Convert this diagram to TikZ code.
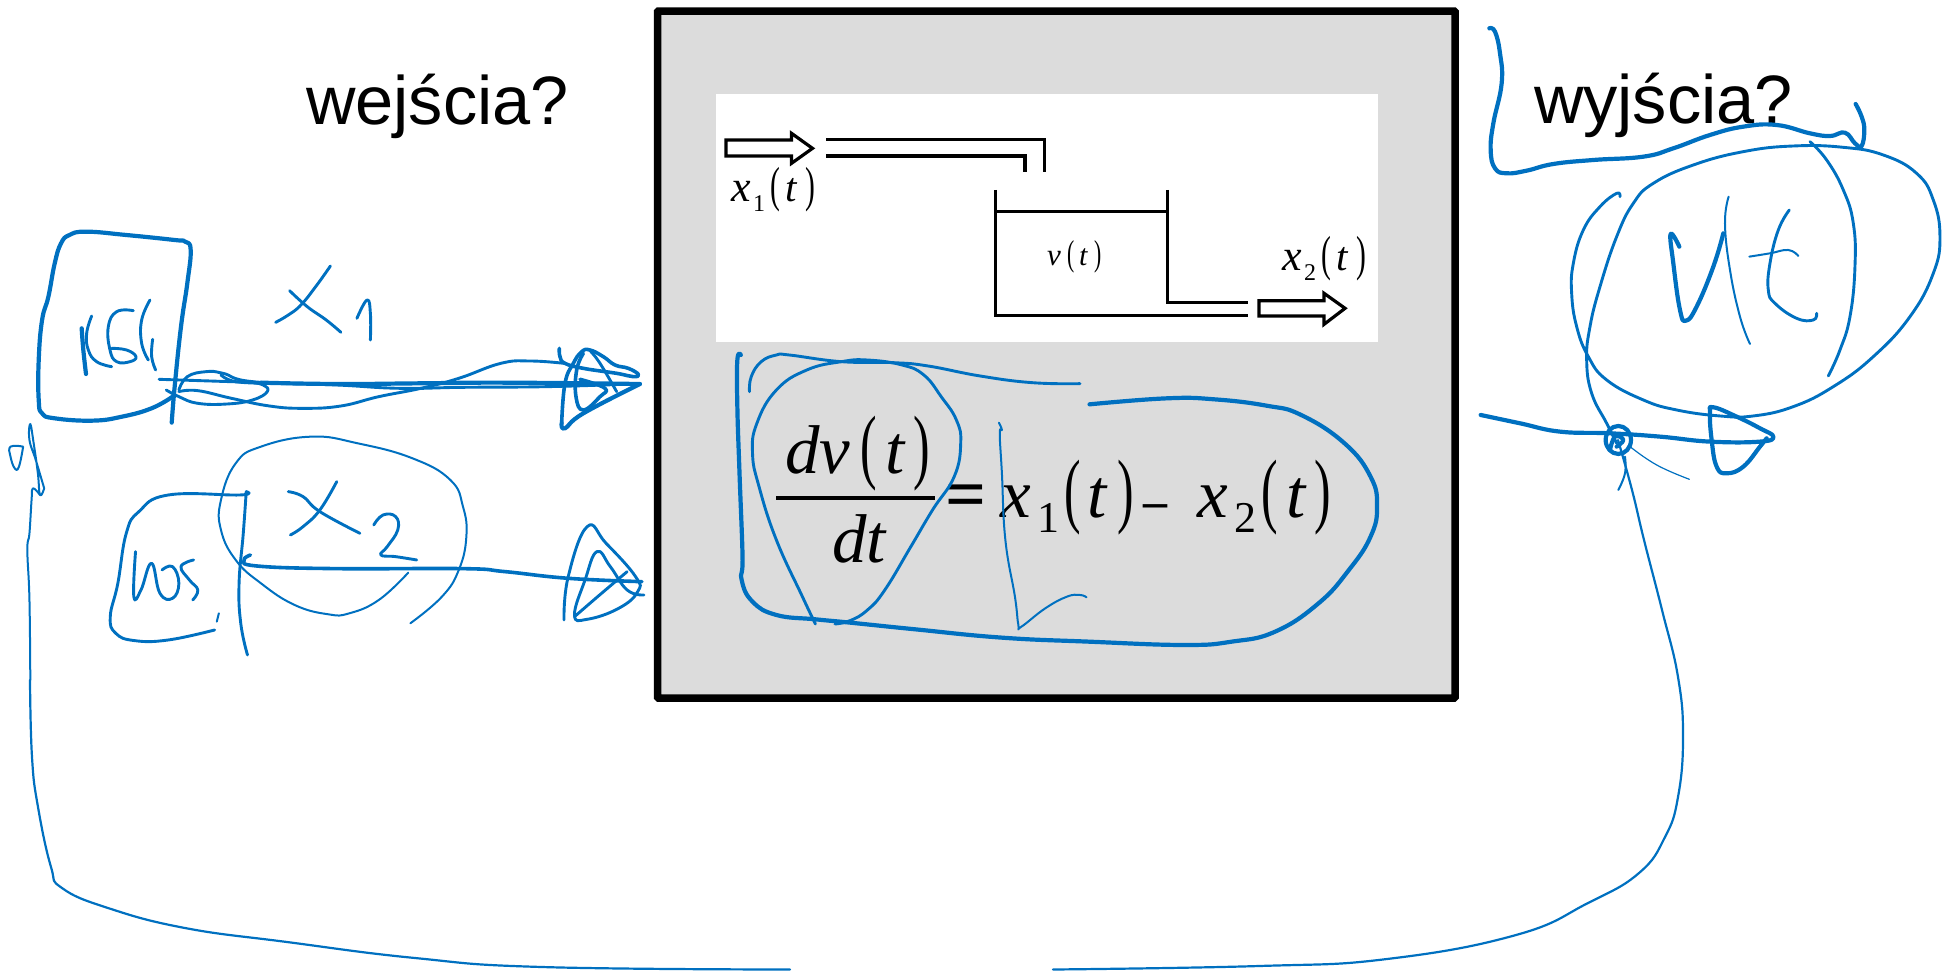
\documentclass[tikz,border=0pt]{standalone}
\usepackage{fontspec}
\usepackage{graphicx}
\setmainfont{Liberation Sans}
\newfontfamily\serifm{Liberation Serif}
\definecolor{inkblue}{HTML}{0070C0}
\definecolor{panelgrey}{HTML}{DCDCDC}
\newcommand{\mtxt}[5]{\node[mathlabel,font=\serifm\itshape\fontsize{#4}{#4}\selectfont] (#1) at (#2,#3) {#5};}
\newcommand{\mrom}[5]{\node[mathlabel,font=\serifm\fontsize{#4}{#4}\selectfont] (#1) at (#2,#3) {#5};}
\newcommand{\mbld}[5]{\node[mathlabel,font=\serifm\bfseries\fontsize{#4}{#4}\selectfont] (#1) at (#2,#3) {#5};}
\newcommand{\mpar}[5]{\node[mathlabel,font=\serifm\fontsize{#4}{#4}\selectfont] (#1) at (#2,#3) {\scalebox{.72}[1.2]{#5}};}
\newcommand{\inkline}[2]{\draw[#1] plot[smooth,tension=.75] coordinates {#2};}
\tikzset{
  mathlabel/.style={inner sep=0pt,outer sep=0pt,anchor=base west,text=black},
  headline/.style={inner sep=0pt,outer sep=0pt,anchor=base west,text=black,font=\fontsize{68.5}{70}\selectfont},
  inkA/.style={draw=inkblue,line width=2pt,line cap=round,line join=round},
  inkB/.style={draw=inkblue,line width=2.9pt,line cap=round,line join=round},
  inkC/.style={draw=inkblue,line width=4.2pt,line cap=round,line join=round},
  pipe/.style={draw=black,line width=3.2pt,line join=miter},
  zA/.style={shift={(0,200)},x=.4209pt,y=-.3333pt},
  zB/.style={shift={(700,80)},x=.4464pt,y=-.3333pt},
  zC/.style={shift={(720,340)},x=.4337pt,y=-.3333pt},
  zD/.style={shift={(1460,10)},x=.3333pt,y=-.3333pt},
  zE/.style={shift={(60,300)},x=.3333pt,y=-.3333pt},
  zF/.style={shift={(550,340)},x=.3333pt,y=-.3333pt},
}
\begin{document}
\begin{tikzpicture}[x=1pt,y=-1pt]
\useasboundingbox (0,0) rectangle (1943,970);
% main panel
\draw[fill=panelgrey,draw=black,line width=7.5pt,rounded corners=1pt] (657.5,11) rectangle (1455,698);
\fill[white] (716,94) rectangle (1378,342);
% headings
\node[headline] (wej) at (306,124) {wejścia?};
\node[headline] (wyj) at (1534,123) {wyjścia?};
% tank picture
\begin{scope}[zB]
\draw[pipe] (58,180) -- (205,180) -- (205,160) -- (252,205) -- (205,250) -- (205,228) -- (58,228) -- cycle;
\draw[pipe] (283,178) -- (772,178) -- (772,275);
\draw[pipe] (283,228) -- (728,228) -- (728,275);
\draw[pipe] (662,330) -- (662,707) -- (1228,707);
\draw[pipe] (1048,330) -- (1048,667) -- (1228,667);
\draw[pipe,line width=2.4pt] (662,395) -- (1048,395);
\draw[pipe] (1252,662) -- (1398,662) -- (1398,640) -- (1445,685) -- (1398,733) -- (1398,708) -- (1252,708) -- cycle;
\end{scope}
\mtxt{sa}{731}{201}{44}{x}
\mrom{sb}{753}{211}{24}{1}
\mpar{sc}{770}{201}{41}{(}
\mtxt{sd}{785}{201}{41}{t}
\mpar{se}{805}{201}{41}{)}
\mtxt{va}{1047}{265}{31}{v}
\mpar{vb}{1067}{265}{30}{(}
\mtxt{vc}{1079}{265}{30}{t}
\mpar{vd}{1094}{265}{30}{)}
\mtxt{ta}{1282}{270}{44}{x}
\mrom{tb}{1304}{280}{24}{2}
\mpar{tc}{1321}{270}{41}{(}
\mtxt{td}{1336}{270}{41}{t}
\mpar{te}{1356}{270}{41}{)}
% equation
\draw[black,line width=3.6pt] (776,498) -- (935,498);
\mtxt{ea}{785}{473}{69}{dv}
\mpar{eb}{860}{473}{69}{(}
\mtxt{ec}{885}{473}{69}{t}
\mpar{ed}{913}{473}{69}{)}
\mtxt{ee}{832}{562}{69}{dt}
\mbld{ef}{945}{518}{72}{=}
\mtxt{eg}{1000}{517}{69}{x}
\mrom{eh}{1037}{532}{44}{1}
\mpar{ei}{1064}{517}{69}{(}
\mtxt{ej}{1087}{517}{69}{t}
\mpar{ek}{1117}{517}{69}{)}
\mbld{el}{1143}{517}{48}{–}
\mtxt{em}{1197}{517}{69}{x}
\mrom{en}{1234}{532}{44}{2}
\mpar{eo}{1261}{517}{69}{(}
\mtxt{ep}{1286}{517}{69}{t}
\mpar{eq}{1314}{517}{69}{)}
% ink over equation
\begin{scope}[zC]
\inkline{inkC}{(48,45)(40,60)(40,200)(45,400)(52,650)(50,720)(75,785)(130,825)(220,838)(300,848)(450,868)(650,893)(850,905)(1070,915)(1180,905)(1280,875)(1380,790)(1450,690)(1500,590)(1515,500)(1500,410)(1440,310)(1340,225)(1260,197)(1140,178)(1030,175)(852,193)}
\inkline{inkB}{(68,155)(72,110)(95,65)(130,45)(160,45)(280,65)(400,68)(480,78)(600,108)(720,128)(830,131)}
\inkline{inkB}{(220,852)(190,770)(130,600)(90,440)(75,340)(85,250)(130,150)(200,90)(280,65)(340,60)(420,75)(470,105)(510,170)(545,240)(555,310)(540,410)(490,510)(440,620)(380,750)(340,810)(300,842)(265,852)}
\inkline{inkA}{(643,248)(650,270)(645,280)(650,400)(658,600)(680,770)(688,855)(695,860)(750,805)(800,770)(830,765)(845,772)}
\end{scope}
% left group
\begin{scope}[zA]
\inkline{inkC}{(410,590)(360,625)(290,650)(220,662)(130,655)(100,640)(92,600)(92,480)(100,360)(115,290)(130,190)(145,130)(165,105)(205,95)(300,105)(415,120)(440,125)(453,150)(445,250)(430,380)(415,560)(408,668)}
\inkline{inkB}{(785,198)(750,260)(715,315)(685,345)(655,367)}
\inkline{inkB}{(688,272)(730,320)(775,360)(810,397)}
\inkline{inkB}{(848,355)(872,300)(880,340)(880,420)}
\inkline{inkC}{(620,548)(800,552)(1000,550)(1200,548)(1520,552)}
\draw[inkB] (378,538) -- (620,548);
\inkline{inkB}{(425,570)(445,530)(490,515)(530,520)(600,545)(800,555)(950,565)(1100,562)(1300,560)(1500,552)}
\inkline{inkB}{(525,525)(560,545)(640,550)}
\inkline{inkB}{(395,570)(425,590)(470,610)(540,612)(600,600)(635,575)(625,555)(590,545)}
\inkline{inkB}{(425,575)(470,572)(550,595)(640,618)(720,625)(810,618)(900,590)(1000,565)(1090,535)(1190,490)(1260,483)(1340,490)}
% LOS box
\inkline{inkB}{(510,1290)(400,1320)(320,1322)(275,1300)(262,1250)(280,1150)(300,1000)(330,935)(400,885)(570,885)(585,875)}
\inkline{inkB}{(585,875)(578,1000)(568,1150)(572,1270)(588,1365)}
\draw[inkA] (520,1240) -- (515,1265);
\inkline{inkB}{(322,1055)(318,1190)(335,1170)(360,1090)(380,1180)(410,1195)(425,1150)(410,1100)(385,1110)}
\inkline{inkB}{(460,1080)(430,1100)(450,1140)(470,1170)(458,1200)}
\inkline{inkA}{(970,1118)(900,1200)(830,1240)(780,1243)(700,1215)(620,1150)(560,1080)(525,990)(525,900)(560,790)(620,740)(740,710)(850,730)(980,775)(1070,840)(1100,920)(1108,1010)(1090,1110)(1050,1190)(975,1270)}
\inkline{inkB}{(800,845)(760,930)(720,980)(690,1005)}
\inkline{inkB}{(685,875)(720,890)(760,935)(855,1000)}
\inkline{inkB}{(888,975)(910,945)(940,950)(945,990)(920,1040)(905,1065)(940,1070)(990,1080)}
\inkline{inkC,line width=3.6pt}{(595,1065)(580,1080)(610,1098)(800,1106)(1100,1106)(1200,1115)(1350,1135)(1525,1145)}
\inkline{inkB}{(1340,1260)(1350,1130)(1395,980)(1440,1030)(1510,1130)(1515,1175)(1470,1225)(1395,1258)(1365,1245)(1390,1140)(1418,1055)(1450,1100)(1490,1170)(1530,1185)}
\inkline{inkB}{(1365,1250)(1420,1190)(1490,1115)}
% tail of feedback line
\inkline{inkA}{(95,885)(78,865)(75,900)(70,1000)(65,1050)(70,1200)(72,1440)}
\inkline{inkA}{(105,865)(95,885)(90,820)(80,730)(72,672)(70,720)(85,780)(105,865)}
\inkline{inkA}{(55,740)(25,740)(25,770)(35,805)(45,800)(55,740)}
\end{scope}
\begin{scope}[zE]
\inkline{inkC}{(65,85)(70,150)(78,222)}
\inkline{inkB}{(95,48)(80,100)(85,150)(110,185)(155,200)}
\inkline{inkB}{(220,32)(170,35)(145,80)(150,150)(170,185)(210,185)(228,170)(200,150)(155,145)}
\inkline{inkB}{(270,0)(245,60)(245,130)(265,180)}
\inkline{inkB}{(278,118)(275,170)(287,210)}
\end{scope}
\begin{scope}[zF]
\inkline{inkC}{(35,250)(45,265)(100,220)(270,132)}
\inkline{inkC,line width=3.6pt}{(28,25)(30,50)(45,70)(100,85)(200,100)(250,110)(265,103)(235,85)(195,75)(160,50)(120,30)(95,35)(70,70)(45,130)(35,250)}
\inkline{inkC,line width=3.6pt}{(100,40)(80,90)(78,170)(100,210)(150,170)(165,145)(90,118)}
\inkline{inkB}{(120,32)(150,70)(200,155)}
\end{scope}
% feedback line
\inkline{inkA,line width=2.2pt}{(30,680)(32,757)(38,807)(51,867)(62,888)(108,908)(185,928)(287,942)(415,958)(542,967)(790,969.5)}
\inkline{inkA,line width=2.2pt}{(1053,969.5)(1259,966)(1387,959)(1516,935)(1588,903)(1639,873)(1665,837)(1678,797)(1683,737)(1678,677)(1662,610)(1644,540)(1632,490)(1618,440)}
% right group
\begin{scope}[zD]
\inkline{inkC}{(88,55)(105,65)(120,130)(125,220)(100,340)(92,420)(105,475)(140,490)(200,482)(280,462)(400,450)(550,440)(640,415)(750,375)(850,350)(950,345)(1050,370)(1110,378)(1155,368)(1185,400)(1205,408)(1213,360)(1205,320)(1187,282)}
\inkline{inkB}{(470,1300)(440,1240)(395,1150)(380,1050)(390,950)(420,830)(470,680)(520,580)(580,520)(700,465)(850,425)(1000,408)(1150,412)(1270,435)(1370,490)(1420,570)(1440,680)(1420,790)(1350,920)(1240,1040)(1120,1130)(1000,1190)(880,1218)(780,1218)(650,1200)(550,1170)(440,1110)(385,1040)(350,950)(335,850)(340,760)(370,660)(420,590)(470,550)(480,560)}
\inkline{inkB}{(1050,395)(1100,450)(1150,540)(1180,640)(1185,770)(1170,920)(1140,1020)(1105,1098)}
\inkline{inkC}{(658,710)(632,672)(640,760)(660,900)(678,932)(710,890)(760,770)(790,670)}
\inkline{inkA}{(806,560)(795,640)(810,780)(840,920)(870,1002)}
\inkline{inkB}{(988,600)(955,660)(930,760)(925,840)(945,880)(1010,925)(1060,930)(1070,910)}
\inkline{inkA}{(868,740)(930,730)(985,720)(1015,738)}
\inkline{inkC}{(62,1215)(180,1240)(300,1265)(450,1270)(600,1280)(750,1295)(900,1295)(940,1280)(900,1255)(830,1220)(760,1192)(750,1210)(755,1290)(770,1370)(800,1390)(850,1370)(900,1310)(920,1285)}
\draw[inkC] (475,1290) circle[x radius=38,y radius=42];
\inkline{inkC}{(450,1320)(465,1280)(490,1290)(470,1310)}
\inkline{inkA,line width=1.2pt}{(510,1310)(590,1365)(688,1408)}
\inkline{inkA}{(495,1340)(495,1390)(475,1440)}
\end{scope}
\end{tikzpicture}
\end{document}
